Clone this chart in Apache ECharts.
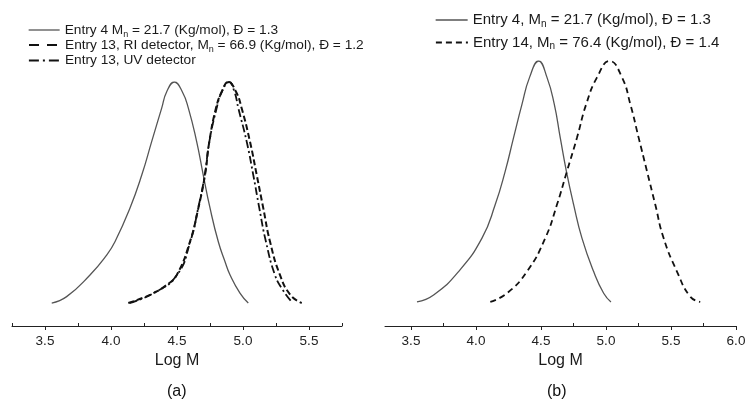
<!DOCTYPE html>
<html>
<head>
<meta charset="utf-8">
<script src="https://cdn.jsdelivr.net/npm/echarts@6/dist/echarts.min.js"></script>
<style>
html, body { margin: 0; padding: 0; background: #fff; }
#chart { width: 747px; height: 403px; }
</style>
</head>
<body>
<div id="chart"></div>
<script>
// panel (a) curves (log M, normalised signal)
var aEntry4X = [3.551, 3.664, 3.841, 3.967, 4.030, 4.144, 4.233, 4.308, 4.384, 4.422, 4.480, 4.540, 4.586, 4.649, 4.699, 4.750, 4.813, 4.864, 4.902, 4.977, 5.040];
var aEntry4Y = [0, 0.029, 0.127, 0.217, 0.277, 0.430, 0.579, 0.730, 0.882, 0.956, 1.0, 0.956, 0.882, 0.730, 0.579, 0.430, 0.277, 0.187, 0.127, 0.045, 0];
var aRiX = [4.131, 4.240, 4.320, 4.420, 4.498, 4.598, 4.661, 4.712, 4.745, 4.795, 4.839, 4.889, 4.947, 4.990, 5.053, 5.104, 5.154, 5.205, 5.280, 5.360, 5.445];
var aRiY = [0, 0.023, 0.044, 0.081, 0.127, 0.277, 0.428, 0.579, 0.730, 0.881, 0.956, 1.0, 0.956, 0.881, 0.730, 0.579, 0.428, 0.277, 0.127, 0.036, 0];
var aUvX = [4.140, 4.320, 4.500, 4.600, 4.660, 4.710, 4.745, 4.800, 4.840, 4.895, 4.935, 4.965, 5.028, 5.078, 5.124, 5.174, 5.242, 5.300, 5.370];
var aUvY = [0, 0.044, 0.127, 0.277, 0.428, 0.579, 0.730, 0.881, 0.956, 1.0, 0.956, 0.881, 0.730, 0.579, 0.428, 0.277, 0.127, 0.060, 0.005];

// panel (b) curves
var bEntry4X = [3.546, 3.674, 3.866, 4.046, 4.148, 4.225, 4.289, 4.354, 4.412, 4.482, 4.546, 4.602, 4.648, 4.695, 4.751, 4.815, 4.905, 4.982, 5.038];
var bEntry4Y = [0, 0.029, 0.126, 0.265, 0.404, 0.543, 0.682, 0.821, 0.932, 1.0, 0.932, 0.821, 0.682, 0.543, 0.404, 0.265, 0.126, 0.036, 0];
var bEntry14X = [4.110, 4.238, 4.392, 4.533, 4.623, 4.700, 4.777, 4.848, 4.931, 5.028, 5.123, 5.187, 5.251, 5.315, 5.379, 5.443, 5.546, 5.648, 5.725];
var bEntry14Y = [0, 0.036, 0.126, 0.265, 0.404, 0.543, 0.682, 0.821, 0.932, 1.0, 0.932, 0.821, 0.682, 0.543, 0.404, 0.265, 0.126, 0.022, 0];

// axis ticks
var aTicks = [3.5, 4.0, 4.5, 5.0, 5.5];
var aMinorTicks = [3.25, 3.75, 4.25, 4.75, 5.25, 5.75];
var bTicks = [3.5, 4.0, 4.5, 5.0, 5.5, 6.0];
var bMinorTicks = [3.75, 4.25, 4.75, 5.25, 5.75];

var names = {
    a1: 'Entry 4 Mn = 21.7 (Kg/mol), Đ = 1.3',
    a2: 'Entry 13, RI detector, Mn = 66.9 (Kg/mol), Đ = 1.2',
    a3: 'Entry 13, UV detector',
    b1: 'Entry 4, Mn = 21.7 (Kg/mol), Đ = 1.3',
    b2: 'Entry 14, Mn = 76.4 (Kg/mol), Đ = 1.4'
};

function pairs(xs, ys) {
    return xs.map(function (x, i) { return [x, ys[i]]; });
}

var FONT = '"Liberation Sans", Arial, sans-serif';

function legendBox(name, left, top, width, size, dash) {
    var ls = { width: 'inherit' };
    if (dash) ls.type = dash;
    return {
        data: [name],
        left: left,
        top: top,
        padding: 0,
        itemWidth: width,
        itemHeight: 14,
        selectedMode: false,
        itemStyle: { opacity: 0, borderWidth: 0 },
        lineStyle: ls,
        formatter: function (n) {
            return n.replace('Mn', 'M{sub|n}');
        },
        textStyle: {
            fontFamily: FONT,
            fontSize: size,
            color: '#1a1a1a',
            lineHeight: 18,
            rich: {
                sub: { fontFamily: FONT, fontSize: Math.round(size * 0.68), color: '#1a1a1a', lineHeight: 18, verticalAlign: 'bottom' }
            }
        }
    };
}

function majorAxis(grid, min, max, ticks) {
    return {
        type: 'value',
        gridIndex: grid,
        position: 'bottom',
        min: min,
        max: max,
        name: 'Log M',
        nameLocation: 'middle',
        nameGap: 25,
        nameTextStyle: { fontFamily: FONT, fontSize: 16, color: '#1a1a1a' },
        axisLine: { show: true, onZero: false, lineStyle: { color: '#222', width: 1 } },
        axisTick: { show: true, inside: false, length: 4, customValues: ticks, lineStyle: { color: '#222' } },
        axisLabel: {
            show: true, margin: 8, customValues: ticks,
            fontFamily: FONT, fontSize: 13.5, color: '#222',
            formatter: function (v) { return v.toFixed(1); }
        },
        splitLine: { show: false }
    };
}

function minorAxis(grid, min, max, ticks) {
    return {
        type: 'value',
        gridIndex: grid,
        position: 'bottom',
        min: min,
        max: max,
        axisLine: { show: false, onZero: false },
        axisTick: { show: true, inside: true, length: 3, customValues: ticks, lineStyle: { color: '#222' } },
        axisLabel: { show: false },
        splitLine: { show: false }
    };
}

function curve(name, xAxis, yAxis, xs, ys, color, width, dash) {
    return {
        name: name, type: 'line', xAxisIndex: xAxis, yAxisIndex: yAxis,
        showSymbol: false, smooth: 0.5, color: color,
        lineStyle: { color: color, width: width, type: dash || 'solid' },
        data: pairs(xs, ys)
    };
}

var myChart = echarts.init(document.getElementById('chart'));

var option = {
    backgroundColor: '#fff',
    animation: false,
    grid: [
        { left: 12, top: 82, width: 330, height: 244, outerBoundsMode: 'none', containLabel: false },
        { left: 385, top: 61, width: 351, height: 265, outerBoundsMode: 'none', containLabel: false }
    ],
    legend: [
        legendBox(names.a1, 28, 21, 31, 13.7),
        legendBox(names.a2, 28, 36, 31, 13.7, [10, 8]),
        legendBox(names.a3, 28, 51.5, 31, 13.7, [10, 4, 2, 4]),
        legendBox(names.b1, 435, 11, 32, 15),
        legendBox(names.b2, 435, 33.5, 32, 15, [6, 4])
    ],
    xAxis: [
        majorAxis(0, 3.25, 5.75, aTicks),
        minorAxis(0, 3.25, 5.75, aMinorTicks),
        majorAxis(1, 3.3, 6.0, bTicks),
        minorAxis(1, 3.3, 6.0, bMinorTicks)
    ],
    yAxis: [
        { type: 'value', gridIndex: 0, min: -0.104, max: 1.0, show: false },
        { type: 'value', gridIndex: 1, min: -0.1, max: 1.0, show: false }
    ],
    graphic: [
        { type: 'text', left: 167, top: 384, style: { text: '(a)', font: '16px ' + FONT, fill: '#111' } },
        { type: 'text', left: 547, top: 384, style: { text: '(b)', font: '16px ' + FONT, fill: '#111' } }
    ],
    series: [
        curve(names.a1, 0, 0, aEntry4X, aEntry4Y, '#555', 1.3),
        curve(names.a2, 0, 0, aRiX, aRiY, '#111', 2, [6, 3]),
        curve(names.a3, 0, 0, aUvX, aUvY, '#111', 1.8, [8, 3, 2, 3]),
        curve(names.b1, 2, 1, bEntry4X, bEntry4Y, '#555', 1.3),
        curve(names.b2, 2, 1, bEntry14X, bEntry14Y, '#111', 1.8, [6, 4])
    ]
};
myChart.setOption(option);
</script>
</body>
</html>
